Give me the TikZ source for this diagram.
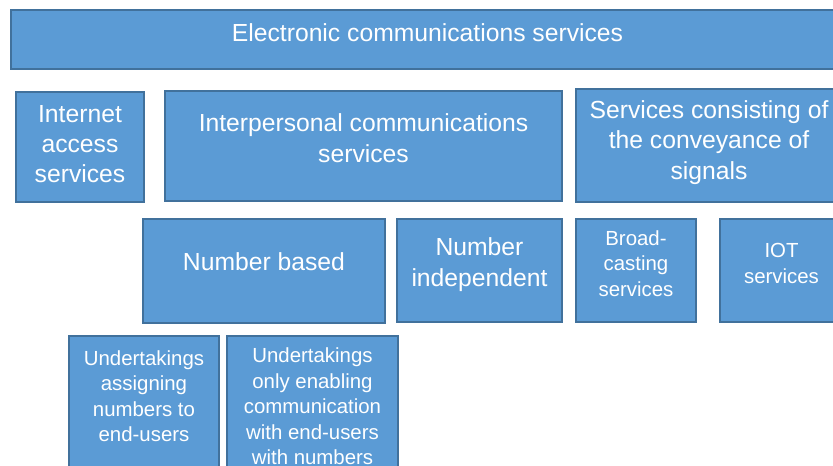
\documentclass[tikz,border=0pt]{standalone}
\usepackage{fontspec}
\setmainfont{Liberation Sans}
\definecolor{boxfill}{HTML}{5B9BD5}
\definecolor{boxline}{HTML}{41719C}
\begin{document}
\begin{tikzpicture}[x=1bp, y=-1bp,
    box/.style={draw=boxline, fill=boxfill, line width=1.3bp, inner sep=0pt},
    bigtxt/.style={text=white, align=center, inner sep=0pt, font=\fontsize{24.7bp}{30.3bp}\selectfont},
    smalltxt/.style={text=white, align=center, inner sep=0pt, font=\fontsize{20.4bp}{25.5bp}\selectfont}]
    \useasboundingbox (0,0) rectangle (833,466);

    % Top level
    \node[box, minimum width=833bp, minimum height=59bp] (ecs) at (427.5,39.5) {};
    \node[bigtxt] (ecs-t) at (427.5,32.4) {Electronic communications services};

    % Second row
    \node[box, minimum width=128bp, minimum height=110bp] (ias) at (80,147) {};
    \node[bigtxt] (ias-t) at (80,144) {Internet\\access\\services};
    \node[box, minimum width=397bp, minimum height=110bp] (ipc) at (363.5,146) {};
    \node[bigtxt] (ipc-t) at (363.5,138.3) {Interpersonal communications\\services};
    \node[box, minimum width=266bp, minimum height=113bp] (scs) at (709,145.5) {};
    \node[bigtxt] (scs-t) at (709,142.5) {Services consisting of\\the conveyance of\\signals};

    % Third row
    \node[box, minimum width=242bp, minimum height=104bp] (nb) at (264,271) {};
    \node[bigtxt] (nb-t) at (264,262) {Number based};
    \node[box, minimum width=165bp, minimum height=103bp] (ni) at (479.5,270.5) {};
    \node[bigtxt] (ni-t) at (479.5,264.5) {Number\\independent};
    \node[box, minimum width=120bp, minimum height=103bp] (bc) at (636,270.5) {};
    \node[smalltxt] (bc-t) at (636,263.3) {Broad-\\casting\\services};
    \node[box, minimum width=123bp, minimum height=103bp] (iot) at (781.5,270.5) {};
    \node[smalltxt] (iot-t) at (781.5,263.3) {IOT\\services};

    % Bottom row (runs past the lower edge)
    \node[box, minimum width=150bp, minimum height=144bp] (ua) at (144,408) {};
    \node[smalltxt] (ua-t) at (144,396) {Undertakings\\assigning\\numbers to\\end-users};
    \node[box, minimum width=171bp, minimum height=154bp] (uo) at (312.5,413) {};
    \node[smalltxt] (uo-t) at (312.5,406.6) {Undertakings\\only enabling\\communication\\with end-users\\with numbers};
\end{tikzpicture}
\end{document}
